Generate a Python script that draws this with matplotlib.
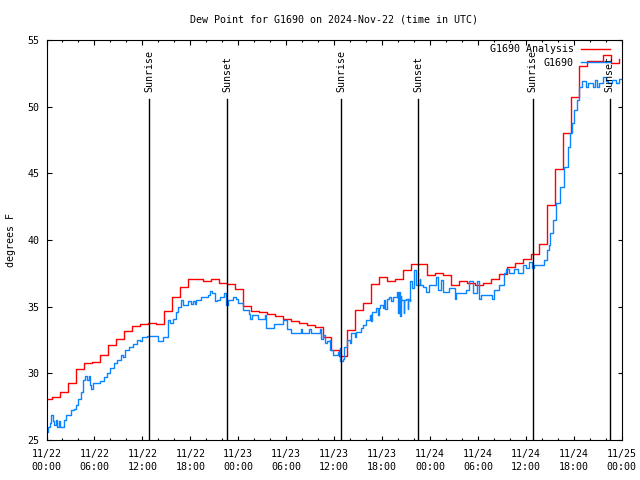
import numpy as np
import pandas as pd
import matplotlib
matplotlib.use("Agg")
import matplotlib.pyplot as plt
import matplotlib.dates as mdates
from matplotlib.ticker import MultipleLocator

plt.rcParams['font.family'] = ['DejaVu Sans Mono']

# ---------------- data ----------------
start = pd.Timestamp("2024-11-22 00:00")

title = "Dew Point for G1690 on 2024-Nov-22 (time in UTC)"
ylabel = "degrees F"
series_names = ["G1690 Analysis", "G1690"]

# analysis (hourly, updated ~:39 past each hour)
red_hours = [0.0] + [k + 0.65 for k in range(72)]
red_vals = [28.05, 28.2, 28.6, 29.25, 30.3, 30.75, 30.85, 31.4, 32.1, 32.6,
            33.2, 33.57, 33.7, 33.8, 33.7, 34.7, 35.75, 36.5, 37.05, 37.05,
            36.9, 37.05, 36.8, 36.7, 36.3, 35.07, 34.7, 34.6, 34.45, 34.3,
            34.1, 33.95, 33.75, 33.6, 33.5, 32.7, 31.75, 31.3, 33.25, 34.75,
            35.25, 36.7, 37.25, 36.9, 37.05, 37.75, 38.2, 38.2, 37.4, 37.55,
            37.4, 36.65, 36.95, 36.75, 36.6, 36.75, 37.05, 37.45, 37.95, 38.25,
            38.55, 38.95, 39.7, 42.6, 45.3, 48.0, 50.7, 53.05, 53.45, 53.4,
            53.9, 53.3, 53.6]

# observations
blue_hours = [0.00, 0.23, 0.44, 0.56, 0.77, 0.98, 1.15, 1.35, 1.52, 1.69,
              2.19, 2.40, 3.02, 3.44, 3.69, 3.90, 4.31, 4.52, 4.81, 5.10,
              5.31, 5.44, 5.56, 5.85, 6.69, 7.23, 7.52, 7.94, 8.44, 8.77,
              9.27, 9.52, 9.81, 10.35, 10.85, 11.35, 11.69, 11.90, 12.52, 13.98,
              14.60, 15.23, 15.44, 15.85, 16.15, 16.48, 16.81, 17.10, 17.73, 18.10,
              18.35, 18.55, 18.77, 19.40, 19.81, 20.23, 20.52, 20.77, 21.06, 21.35,
              21.69, 22.19, 22.44, 22.52, 22.73, 23.35, 23.69, 23.98, 24.40, 24.60,
              25.35, 25.52, 25.73, 26.52, 27.31, 27.52, 28.44, 29.60, 30.10, 30.65,
              31.80, 31.95, 32.90, 33.05, 34.19, 34.40, 34.60, 34.80, 35.10, 35.44,
              35.50, 35.90, 36.50, 36.70, 36.80, 37.10, 37.30, 37.60, 37.94, 38.15,
              38.56, 38.78, 39.40, 39.60, 40.00, 40.44, 40.65, 40.70, 41.27, 41.50,
              41.60, 41.80, 42.10, 42.30, 42.40, 42.60, 42.85, 43.15, 43.40, 43.85,
              43.98, 44.10, 44.25, 44.35, 44.40, 44.73, 44.80, 45.00, 45.20, 45.30,
              45.44, 45.56, 45.80, 46.06, 46.27, 46.69, 46.80, 47.10,
              47.50, 47.94, 48.77, 48.98, 49.40, 49.60, 50.44, 51.15, 51.27, 52.52,
              52.94, 53.35, 53.85, 54.19, 54.40, 55.80, 56.06, 56.69, 57.31, 57.52,
              57.94, 58.56, 58.98, 59.60, 60.02, 60.44, 60.77, 61.06, 62.31, 62.60,
              62.85, 63.02, 63.35, 63.77, 64.27, 64.81, 65.23, 65.52, 65.77, 66.06,
              66.35, 66.60, 67.02, 67.52, 67.73, 68.35, 68.60, 68.90, 69.19, 69.60,
              70.02, 70.23, 70.77, 71.27, 71.69, 72.00]
blue_vals = [25.6, 26.0, 26.3, 26.9, 26.4, 26.1, 26.5, 26.0, 26.4, 26.0,
             26.5, 26.9, 27.25, 27.3, 27.6, 28.05, 28.6, 29.5, 29.8, 29.5,
             29.8, 29.1, 28.8, 29.25, 29.4, 29.75, 30.0, 30.4, 30.75, 31.0,
             31.4, 31.25, 31.75, 32.0, 32.2, 32.5, 32.4, 32.75, 32.8, 32.4,
             32.75, 34.0, 33.75, 34.1, 34.6, 35.0, 35.5, 35.1, 35.4, 35.2,
             35.4, 35.2, 35.5, 35.75, 35.7, 35.9, 36.2, 36.0, 35.4, 35.5,
             35.75, 36.0, 35.75, 35.1, 35.5, 35.75, 35.6, 35.3, 35.25, 34.75,
             34.45, 34.05, 34.4, 34.05, 34.4, 33.4, 33.7, 34.0, 33.3, 33.0,
             33.3, 33.0, 33.3, 33.0, 33.3, 32.6, 32.9, 32.25, 32.4, 32.5,
             31.75, 31.4, 31.6, 31.9, 30.9, 31.1, 32.0, 32.5, 32.25, 33.0,
             32.75, 33.1, 33.4, 33.6, 34.0, 34.4, 33.9, 34.6, 34.9, 34.4,
             34.9, 35.1, 34.9, 35.5, 34.8, 35.6, 35.75, 35.4, 35.75, 36.1,
             34.5, 36.1, 34.3, 35.8, 35.5, 34.5, 35.5, 35.6, 34.8, 35.6,
             35.4, 36.9, 36.4, 37.75, 36.6, 37.1, 36.6, 36.5,
             36.1, 36.6, 37.2, 36.25, 37.0, 36.1, 36.4, 35.6, 36.0, 36.25,
             36.9, 36.0, 36.9, 35.6, 35.9, 35.6, 36.25, 36.6, 37.5, 37.8,
             37.55, 37.8, 37.55, 38.1, 37.9, 38.35, 37.9, 38.1, 38.5, 39.25,
             39.6, 40.5, 41.5, 42.75, 44.0, 45.5, 47.0, 48.0, 48.75, 49.75,
             50.5, 51.5, 51.9, 51.5, 51.75, 51.5, 52.0, 51.5, 51.75, 52.25,
             51.9, 51.75, 52.0, 51.75, 52.1, 52.1]

sun_hours = [12.85, 22.6, 36.9, 46.5, 60.85, 70.5]
sun_labels = ["Sunrise", "Sunset", "Sunrise", "Sunset", "Sunrise", "Sunset"]
sun_line_top = 50.6
sun_label_y = 51.1

ymin, ymax = 25, 55

# ---------------- plot ----------------
def to_time(hours):
    return [start + pd.Timedelta(hours=h) for h in hours]

fig = plt.figure(figsize=(6.4, 4.8), dpi=100)
ax = fig.add_axes([46.5 / 640, 40 / 480, 575.2 / 640, 400 / 480])

FS = 7.2
ax.plot(to_time(red_hours), red_vals, drawstyle='steps-post', color='#ff0000',
        lw=1.0, label=series_names[0])
ax.plot(to_time(blue_hours), blue_vals, drawstyle='steps-post', color='#0a84ff',
        lw=1.0, label=series_names[1])

for h, lab in zip(sun_hours, sun_labels):
    t = start + pd.Timedelta(hours=h)
    ax.plot([t, t], [ymin, sun_line_top], color='black', lw=1.0)
    ax.text(t, sun_label_y, lab, rotation=90, ha='center', va='bottom',
            fontsize=FS, color='black')

ax.set_xlim(start, start + pd.Timedelta(hours=72))
ax.set_ylim(ymin, ymax)
ax.xaxis.set_major_locator(mdates.HourLocator(byhour=range(0, 24, 6)))
ax.xaxis.set_minor_locator(mdates.HourLocator(byhour=range(0, 24, 2)))
ax.xaxis.set_major_formatter(mdates.DateFormatter("%m/%d\n%H:%M"))
ax.yaxis.set_major_locator(MultipleLocator(5))

ax.tick_params(axis='both', which='major', direction='in', length=4.5 * 0.72,
               width=0.8, top=True, right=True, labelsize=FS)
ax.tick_params(axis='x', which='major', pad=6.3)
ax.tick_params(axis='y', which='major', pad=5)
ax.tick_params(axis='x', which='minor', direction='in', length=2.5 * 0.72,
               width=0.8, top=True)
for lab in ax.get_xticklabels():
    lab.set_linespacing(1.35)
for sp in ax.spines.values():
    sp.set_linewidth(0.8)

fig.text(334 / 640, 1 - 20 / 480, title, ha='center', va='center', fontsize=FS)
fig.text(11 / 640, 0.5, ylabel, rotation=90, ha='center', va='center', fontsize=FS)

leg = ax.legend(loc='upper right', bbox_to_anchor=((610 - 46.5) / 575.2, (440 - 44.5) / 400),
                frameon=False, markerfirst=False, fontsize=FS, handlelength=2.9,
                handletextpad=0.7, borderpad=0, borderaxespad=0, labelspacing=0.35)

fig.savefig("out.png", dpi=100)
